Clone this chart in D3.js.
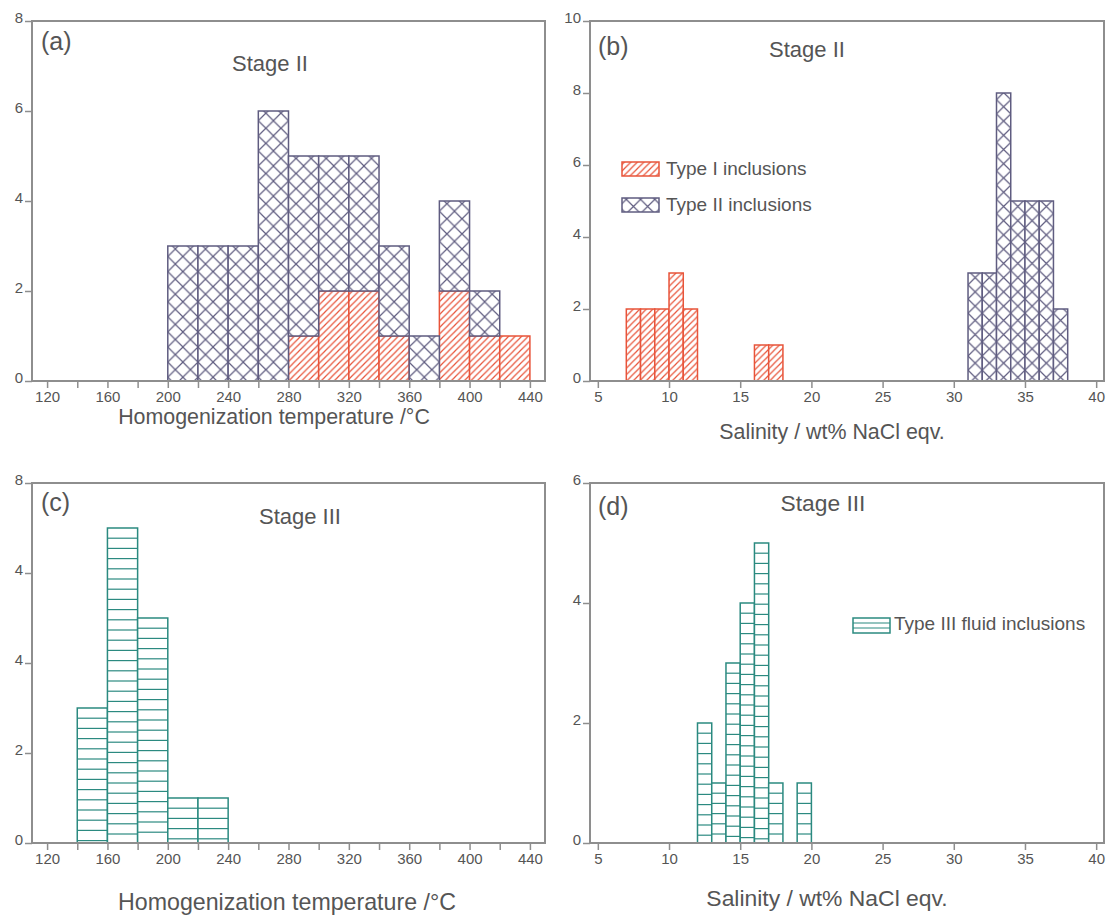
<!DOCTYPE html>
<html>
<head>
<meta charset="utf-8">
<script src="https://d3js.org/d3.v7.min.js"></script>
<style>
body { margin:0; background:#fff; }
svg text { font-family: "Liberation Sans", Arial, Helvetica, sans-serif; fill:#555; }
</style>
</head>
<body>
<svg width="1107" height="916"></svg>
<script>
// (a) Stage II, homogenization temperature (bins of 20 °C, left edges)
var tempBinsA = [200,220,240,260,280,300,320,340,360,380,400,420];
var typeIA    = [0,0,0,0,1,2,2,1,0,2,1,1];
var typeIIA   = [3,3,3,6,4,3,3,2,1,2,1,0];   // stacked on top of type I

// (b) Stage II, salinity (bins of 1 wt%)
var salBinsIB  = [7,8,9,10,11,16,17];
var typeIB     = [2,2,2,3,2,1,1];
var salBinsIIB = [31,32,33,34,35,36,37];
var typeIIB    = [3,3,8,5,5,5,2];

// (c) Stage III, homogenization temperature
var tempBinsC = [140,160,180,200,220];
var typeIIIC  = [3,7,5,1,1];

// (d) Stage III, salinity
var salBinsD  = [12,13,14,15,16,17,19];
var typeIIID  = [2,1,3,4,5,1,1];

// ticks
var tempTicks  = [120,140,160,180,200,220,240,260,280,300,320,340,360,380,400,420,440];
var tempLabels = [120,160,200,240,280,320,360,400,440];
var salTicks   = [5,10,15,20,25,30,35,40];
var yTicksA = [0,2,4,6,8],    yLabelsA = ["0","2","4","6","8"];
var yTicksB = [0,2,4,6,8,10], yLabelsB = ["0","2","4","6","8","10"];
var yTicksC = [0,2,4,6,8],    yLabelsC = ["0","2","4","4","8"];
var yTicksD = [0,2,4,6],      yLabelsD = ["0","2","4","6"];

var red = "#e8543a", purple = "#5f5c80", teal = "#2b8a80", frame = "#8e8e8e";

var svg = d3.select("svg");
var defs = svg.append("defs");

var setup = function(xr, yr, xd, yd)
{
    var xscale = d3.scaleLinear().domain(xd).range(xr);
    var yscale = d3.scaleLinear().domain(yd).range(yr);
    return {"xscale": xscale, "yscale": yscale};
}

var sA = setup([32,545],[381,21],[110,450],[0,8]);
var sB = setup([590,1104],[381,21],[4.45,40.55],[0,10]);
var sC = setup([32,545],[843,483],[110,450],[0,8]);
var sD = setup([590,1104],[843,483],[4.45,40.55],[0,6]);

// patterns
var crossPattern = function(id, size, x0)
{
    var p = defs.append("pattern")
        .attr("id", id)
        .attr("patternUnits","userSpaceOnUse")
        .attr("x", x0).attr("y", 0)
        .attr("width", size).attr("height", size);
    p.append("rect").attr("width",size).attr("height",size).attr("fill","#fff");
    p.append("path")
        .attr("d","M0,0L"+size+","+size+"M"+size+",0L0,"+size)
        .attr("stroke",purple).attr("stroke-width",1.2).attr("fill","none");
}
crossPattern("crossA", (sA.xscale(220)-sA.xscale(200))/2, sA.xscale(200));
crossPattern("crossB", sB.xscale(32)-sB.xscale(31), sB.xscale(31));

var hp = defs.append("pattern")
    .attr("id","hatch")
    .attr("patternUnits","userSpaceOnUse")
    .attr("width",6.5).attr("height",6.5);
hp.append("rect").attr("width",6.5).attr("height",6.5).attr("fill","#fff");
hp.append("path")
    .attr("d","M0,6.5L6.5,0M-1,1L1,-1M5.5,7.5L7.5,5.5")
    .attr("stroke",red).attr("stroke-width",1.2).attr("fill","none");

var drawBars = function(bins, counts, base, width, sc, fill, color)
{
    var rows = bins.map(function(b,i){ return {x:b, y0:base ? base[i] : 0, n:counts[i]}; })
        .filter(function(r){ return r.n > 0; });
    svg.append("g")
        .selectAll("rect")
        .data(rows)
        .enter()
        .append("rect")
        .attr("x", function(r){ return sc.xscale(r.x); })
        .attr("width", function(r){ return sc.xscale(r.x+width)-sc.xscale(r.x); })
        .attr("y", function(r){ return sc.yscale(r.y0+r.n); })
        .attr("height", function(r){ return sc.yscale(r.y0)-sc.yscale(r.y0+r.n); })
        .attr("fill", fill)
        .attr("stroke", color)
        .attr("stroke-width", 1.5);
    return rows;
}

var drawLineBars = function(bins, counts, width, sc)
{
    var rows = bins.map(function(b,i){ return {x:b, n:counts[i]}; });
    var g = svg.append("g");
    g.selectAll("rect")
        .data(rows)
        .enter()
        .append("rect")
        .attr("x", function(r){ return sc.xscale(r.x); })
        .attr("width", function(r){ return sc.xscale(r.x+width)-sc.xscale(r.x); })
        .attr("y", function(r){ return sc.yscale(r.n); })
        .attr("height", function(r){ return sc.yscale(0)-sc.yscale(r.n); })
        .attr("fill", "#fff")
        .attr("stroke", teal)
        .attr("stroke-width", 1.5);
    rows.forEach(function(r)
    {
        var top = sc.yscale(r.n), bottom = sc.yscale(0);
        for (var yy = top + 10.2; yy < bottom - 1; yy += 10.2)
        {
            g.append("line")
                .attr("x1", sc.xscale(r.x)).attr("x2", sc.xscale(r.x+width))
                .attr("y1", yy).attr("y2", yy)
                .attr("stroke", teal).attr("stroke-width", 1.2);
        }
    });
}

var drawAxes = function(sc, xt, xl, yt, yl)
{
    var xr = sc.xscale.range(), yr = sc.yscale.range();
    var gx = svg.append("g")
        .attr("transform","translate(0,"+yr[0]+")")
        .call(d3.axisBottom(sc.xscale).tickValues(xt).tickSize(7).tickPadding(3)
            .tickFormat(function(d){ return xl.indexOf(d) >= 0 ? d : ""; }));
    var gy = svg.append("g")
        .attr("transform","translate("+xr[0]+",0)")
        .call(d3.axisLeft(sc.yscale).tickValues(yt).tickSize(7).tickPadding(2)
            .tickFormat(function(d,i){ return yl[i]; }));
    [gx, gy].forEach(function(g)
    {
        g.attr("font-size", 15).attr("font-family", '"Liberation Sans", Arial, sans-serif');
        g.select(".domain").remove();
        g.selectAll(".tick line").attr("stroke", frame).attr("stroke-width", 1.5);
        g.selectAll(".tick text").attr("fill","#555").style("font-size","15px");
    });
    gy.selectAll(".tick text").attr("dy","0.12em");
    svg.append("rect")
        .attr("x", xr[0]).attr("y", yr[1])
        .attr("width", xr[1]-xr[0]).attr("height", yr[0]-yr[1])
        .attr("fill","none").attr("stroke", frame).attr("stroke-width", 2);
}

var label = function(x, y, txt, size, anchor)
{
    svg.append("text")
        .attr("x", x).attr("y", y)
        .attr("text-anchor", anchor || "start")
        .style("font-size", size+"px")
        .text(txt);
}

// (a)
drawBars(tempBinsA, typeIA, null, 20, sA, "url(#hatch)", red);
drawBars(tempBinsA, typeIIA, typeIA, 20, sA, "url(#crossA)", purple);
drawAxes(sA, tempTicks, tempLabels, yTicksA, yLabelsA);
label(41, 50, "(a)", 25);
label(270, 71, "Stage II", 22, "middle");
label(274, 424, "Homogenization temperature /°C", 21.4, "middle");

// (b)
drawBars(salBinsIB, typeIB, null, 1, sB, "url(#hatch)", red);
drawBars(salBinsIIB, typeIIB, null, 1, sB, "url(#crossB)", purple);
drawAxes(sB, salTicks, salTicks, yTicksB, yLabelsB);
label(598, 55, "(b)", 25);
label(807, 57, "Stage II", 22, "middle");
label(832, 439, "Salinity / wt% NaCl eqv.", 21.4, "middle");

svg.append("rect").attr("x",622).attr("y",162).attr("width",37).attr("height",14)
    .attr("fill","url(#hatch)").attr("stroke",red).attr("stroke-width",1.5);
label(666, 175, "Type I inclusions", 19);
svg.append("rect").attr("x",622).attr("y",198).attr("width",37).attr("height",14)
    .attr("fill","url(#crossB)").attr("stroke",purple).attr("stroke-width",1.5);
label(666, 211, "Type II inclusions", 19);

// (c)
drawLineBars(tempBinsC, typeIIIC, 20, sC);
drawAxes(sC, tempTicks, tempLabels, yTicksC, yLabelsC);
label(41, 511, "(c)", 25);
label(300, 524, "Stage III", 22, "middle");
label(287, 910, "Homogenization temperature /°C", 23.2, "middle");

// (d)
drawLineBars(salBinsD, typeIIID, 1, sD);
drawAxes(sD, salTicks, salTicks, yTicksD, yLabelsD);
label(598, 515, "(d)", 25);
label(823, 511, "Stage III", 22.8, "middle");
label(827, 906, "Salinity / wt% NaCl eqv.", 22.9, "middle");

svg.append("rect").attr("x",853).attr("y",618).attr("width",37).attr("height",15)
    .attr("fill","#fff").attr("stroke",teal).attr("stroke-width",1.5);
svg.append("line").attr("x1",853).attr("x2",890).attr("y1",623).attr("y2",623)
    .attr("stroke",teal).attr("stroke-width",1.2);
svg.append("line").attr("x1",853).attr("x2",890).attr("y1",628).attr("y2",628)
    .attr("stroke",teal).attr("stroke-width",1.2);
label(894, 630, "Type III fluid inclusions", 19);
</script>
</body>
</html>
